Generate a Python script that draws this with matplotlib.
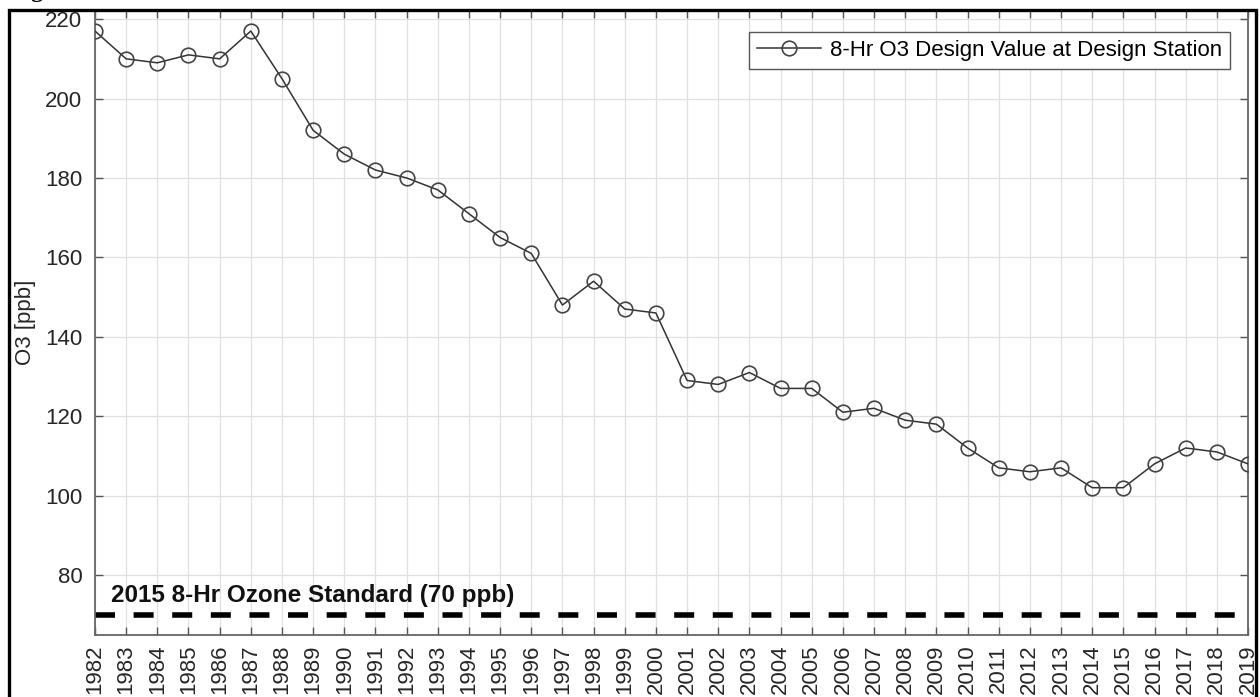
import matplotlib
matplotlib.use("Agg")
import matplotlib.pyplot as plt
from matplotlib.patches import Rectangle

years = list(range(1982, 2020))
o3_design_value = [217, 210, 209, 211, 210, 217, 205, 192, 186, 182,
                   180, 177, 171, 165, 161, 148, 154, 147, 146, 129,
                   128, 131, 127, 127, 121, 122, 119, 118, 112, 107,
                   106, 107, 102, 102, 108, 112, 111, 108]
standard_value = 70
series_label = "8-Hr O3 Design Value at Design Station"
standard_label = "2015 8-Hr Ozone Standard (70 ppb)"
y_label = "O3 [ppb]"
y_ticks = [80, 100, 120, 140, 160, 180, 200, 220]
title_text = "Figure 2-3  Historical Trend of 8-Hr Maximum Ozone Concentration"

plt.rcParams['font.family'] = ['Liberation Sans', 'DejaVu Sans']

W, H = 1260, 697
fig = plt.figure(figsize=(W / 100, H / 100), dpi=100)
fig.patch.set_facecolor('white')

left, right, top, bottom = 95, 1248, 10, 635
aw, ah = right - left, bottom - top
ax = fig.add_axes([left / W, 1 - bottom / H, aw / W, ah / H])

ax.plot(years, o3_design_value, color='#333333', lw=1.1, marker='o',
        markersize=10.5, markerfacecolor='none', markeredgecolor='#444444',
        markeredgewidth=1.2, label=series_label, zorder=3)

ax.axhline(standard_value, color='black', lw=4.0, dashes=(3.6, 3.35), zorder=2)
ax.text(1982.5, standard_value + 2.0, standard_label, fontsize=17.5,
        fontweight='bold', color='#111111', ha='left', va='bottom')

ax.set_xlim(1982, 2019)
ax.set_ylim(64.9, 222.3)
ax.set_xticks(years)
ax.set_xticklabels([str(y) for y in years], rotation=90, fontsize=16, color='#262626')
ax.set_yticks(y_ticks)
ax.set_yticklabels([str(v) for v in y_ticks], fontsize=16, color='#262626')
ax.set_ylabel(y_label, fontsize=16, color='#262626', labelpad=7)

ax.grid(True, color='#e0e0e0', lw=0.9)
ax.set_axisbelow(True)
ax.tick_params(axis='both', direction='in', length=6, width=1, color='#555555',
               top=True, right=True)
ax.tick_params(axis='y', pad=9)
ax.tick_params(axis='x', pad=7)
for s in ax.spines.values():
    s.set_color('#666666')
    s.set_linewidth(1.3)

leg = ax.legend(loc='upper right', bbox_to_anchor=(1 - 18 / aw, 1 - 22 / ah),
                fontsize=16, frameon=True, fancybox=False,
                edgecolor='#555555', framealpha=1, handlelength=2.9,
                borderaxespad=0, borderpad=0.35, handletextpad=0.4)
leg.get_frame().set_linewidth(1.0)

# outer frame of the document figure box
fig.add_artist(Rectangle((9 / W, -0.05), (1256 - 9) / W, 1.05 - 10 / H,
                         transform=fig.transFigure, fill=False,
                         edgecolor='black', lw=2.4, zorder=10))

# title partly cut off at the top of the crop
fig.text(10 / W, 1 + 3 / H, title_text, fontsize=17, fontweight='bold',
         family=['Liberation Serif', 'DejaVu Serif'], ha='left', va='baseline')

fig.savefig("out.png", dpi=100)
